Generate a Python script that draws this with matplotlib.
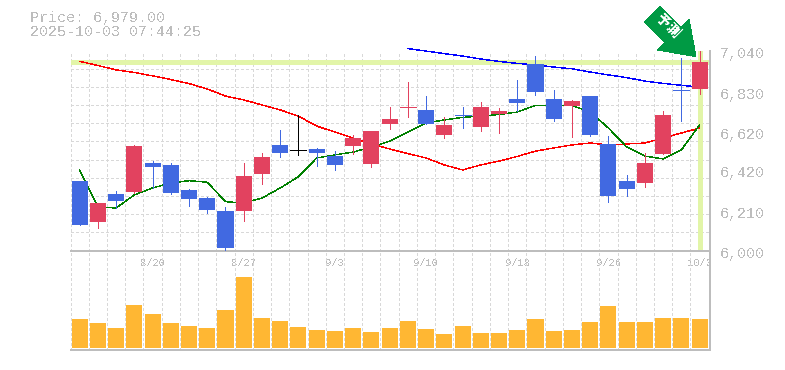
#!/usr/bin/env python3
"""Daily candlestick chart with moving averages and volume"""

import matplotlib
matplotlib.use('Agg')
import matplotlib.pyplot as plt
import numpy as np
from matplotlib.patches import Polygon
from matplotlib.transforms import ScaledTranslation

plt.rcParams['font.family'] = ['Liberation Mono', 'DejaVu Sans Mono']
plt.rcParams['text.antialiased'] = False
plt.rcParams['lines.antialiased'] = False
plt.rcParams['patch.antialiased'] = False

# Daily data
opens = [6361, 6148, 6294, 6304, 6455, 6445, 6315, 6273, 6205, 6205, 6398, 6549, 6521, 6528, 6491, 6543, 6450, 6658,
         6744, 6731, 6601, 6704, 6642, 6710, 6788, 6970, 6788, 6751, 6803, 6554, 6361, 6351, 6502, 6834, 6840]
closes = [6133, 6247, 6257, 6543, 6434, 6299, 6268, 6211, 6013, 6387, 6486, 6507, 6521, 6507, 6445, 6585, 6621, 6684,
          6745, 6658, 6653, 6703, 6746, 6725, 6767, 6824, 6684, 6777, 6601, 6283, 6320, 6455, 6705, 6833, 6979]
highs = [6361, 6247, 6309, 6549, 6465, 6455, 6320, 6278, 6226, 6455, 6507, 6627, 6705, 6533, 6517, 6601, 6621, 6746,
         6876, 6803, 6694, 6746, 6772, 6741, 6887, 7011, 6835, 6783, 6803, 6595, 6393, 6507, 6725, 7001, 7040]
lows = [6133, 6117, 6221, 6297, 6323, 6294, 6231, 6195, 6003, 6153, 6346, 6486, 6497, 6439, 6419, 6502, 6434, 6632,
        6694, 6658, 6585, 6637, 6621, 6611, 6725, 6809, 6673, 6590, 6595, 6252, 6283, 6330, 6502, 6673, 6814]
volumes = [29, 25, 20, 43, 34, 25, 22, 20, 38, 71, 30, 27, 21, 18, 17, 20, 16, 20,
           27, 19, 14, 22, 15, 15, 18, 29, 17, 18, 26, 42, 26, 26, 30, 30, 29]

# Moving averages
ma_short = [6419, 6226, 6221, 6289, 6325, 6351, 6363, 6355, 6254, 6247, 6273, 6325, 6384, 6481, 6497, 6512, 6538, 6569,
            6616, 6663, 6679, 6692, 6699, 6707, 6720, 6755, 6755, 6754, 6720, 6637, 6538, 6491, 6476, 6523, 6653]
ma_mid = [6984, 6962, 6939, 6926, 6908, 6889, 6868, 6840, 6803, 6783, 6757, 6731, 6699, 6647, 6616, 6585, 6554, 6528,
          6504, 6481, 6445, 6419, 6445, 6465, 6489, 6517, 6533, 6549, 6559, 6549, 6554, 6559, 6585, 6611, 6637]
ma_long = [7050, 7037, 7024, 7011, 6996, 6983, 6973, 6965, 6954, 6945, 6928, 6913, 6899, 6881, 6869, 6859, 6850]
ma_long_start = 18

price_ticks = [6000, 6210, 6420, 6620, 6830, 7040]
price_labels = ['6,000', '6,210', '6,420', '6,620', '6,830', '7,040']
date_pos = [4, 9, 14, 19, 24, 29, 34]
date_labels = ['8/20', '8/27', '9/3', '9/10', '9/18', '9/26', '10/3']

last_price = 6979

RED = '#e2425f'
BLUE = '#4169e1'
GRAY = '#bdbdbd'
GRID = '#d8d8d8'
LIGHT = '#e2f5a8'
W, H = 785, 370
PX = 72 / 100
THIN = 0.8 * PX
MA_LW = 0.4 * PX


def panel(fig, left, top, right, bottom):
    ax = fig.add_axes([left / W, 1 - bottom / H, (right - left) / W, (bottom - top) / H])
    ax.patch.set_alpha(0)
    for side in ('left', 'top'):
        ax.spines[side].set_visible(False)
    for side in ('right', 'bottom'):
        ax.spines[side].set_color(GRAY)
        ax.spines[side].set_linewidth(1.3)
    ax.set_xlim(-0.5, 34.57)
    ax.set_xticks(np.arange(36) - 0.5, minor=True)
    ax.tick_params(which='both', length=0)
    ax.set_axisbelow(True)
    ax.grid(which='minor', color=GRID, lw=THIN, ls=(0, (3, 3)))
    return ax


fig = plt.figure(figsize=(W / 100, H / 100), dpi=100)
x = np.arange(len(opens))

# Price panel
ax = panel(fig, 70.5, 50.5, 710, 250.5)
ax.set_ylim(6000, 7040)
ax.set_yticks(np.linspace(6000, 7040, 12), minor=True)
ax.yaxis.tick_right()
ax.set_yticks(price_ticks, price_labels, fontsize=15 * PX, color=GRAY)
ax.set_xticks(date_pos, date_labels, fontsize=10.5 * PX, color=GRAY)
ax.tick_params(axis='y', which='major', pad=7)
ax.tick_params(axis='x', which='major', pad=5.5)
for label in ax.get_yticklabels():
    label.set_transform(label.get_transform() + ScaledTranslation(0, -2.2 / 100, fig.dpi_scale_trans))

ax.axhline(last_price, color=LIGHT, lw=3.4 * PX, zorder=1)
ax.vlines(x[-1], 6010, 7040, color=LIGHT, lw=3.4 * PX, zorder=1)

ax.plot(x, ma_mid, color='#ff0000', lw=MA_LW, zorder=2)
ax.plot(x, ma_short, color='#008000', lw=MA_LW, zorder=2)
ax.plot(x[ma_long_start:], ma_long, color='#0000ff', lw=MA_LW, zorder=2, clip_on=False)

# Candles
for i in x:
    o, c = opens[i], closes[i]
    col = RED if c > o else BLUE if c < o else 'black'
    ax.vlines(i, lows[i], highs[i], color=col, lw=THIN, zorder=3)
    if abs(c - o) <= 2:
        ax.hlines(c, i - 0.44, i + 0.44, color=col, lw=THIN, zorder=3)
    else:
        ax.bar(i, abs(c - o), 0.88, bottom=min(o, c), color=col, zorder=4)

# Volume panel
ax2 = panel(fig, 70.5, 250.5, 710, 350)
ax2.set_ylim(-2, 97.5)
ax2.set_yticks([])
ax2.set_xticks([])
ax2.bar(x, volumes, 0.88, color='#ffb733', zorder=3)

# Header
fig.text(30 / W, 1 - 18 / H, 'Price: 6,979.00', fontsize=15 * PX, color=GRAY, va='center')
fig.text(30 / W, 1 - 32.5 / H, '2025-10-03 07:44:25', fontsize=15 * PX, color=GRAY, va='center')

# Green arrow badge
arrow_px = [(660, 6), (681, 27), (689, 19), (696, 56.7), (657.7, 50), (665, 42.7), (644.3, 21.7)]
fig.add_artist(Polygon([(px / W, 1 - py / H) for px, py in arrow_px], closed=True,
                       transform=fig.transFigure, facecolor='#009a44', edgecolor='none'))
fig.text(668 / W, 1 - 26 / H, '予測', family=['Noto Sans CJK JP', 'DejaVu Sans'], fontsize=14 * PX,
         fontweight='bold', color='white', rotation=-45, ha='center', va='center', rotation_mode='anchor')

fig.savefig('out.png', dpi=100)
